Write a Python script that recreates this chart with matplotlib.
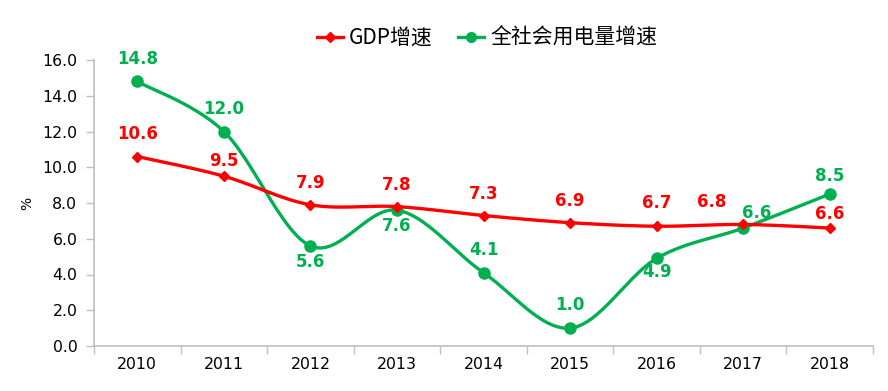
import numpy as np
import matplotlib
matplotlib.use("Agg")
import matplotlib.pyplot as plt
from matplotlib.lines import Line2D

years = ["2010", "2011", "2012", "2013", "2014", "2015", "2016", "2017", "2018"]
gdp = [10.6, 9.5, 7.9, 7.8, 7.3, 6.9, 6.7, 6.8, 6.6]
power = [14.8, 12.0, 5.6, 7.6, 4.1, 1.0, 4.9, 6.6, 8.5]
series_names = ["GDP增速", "全社会用电量增速"]
yticks = [0.0, 2.0, 4.0, 6.0, 8.0, 10.0, 12.0, 14.0, 16.0]

# label placement (style only): vertical pixel offsets and horizontal shifts
gdp_dy_px = [23, 15, 22, 22, 22, 22, 23, 22, 14]
power_dy_px = [22, 23, -16, -16, 23, 23, -14, 15, 18]
gdp_dx = [0, 0, 0, 0, 0, 0, 0, -0.36, 0]
power_dx = [0, 0, 0, 0, 0, 0, 0, 0.16, 0]

RED = "#FF0000"
GREEN = "#00B050"
AXC = "#BFBFBF"
PX_PER_UNIT = 286 / 16.0

fig = plt.figure(figsize=(8.88, 3.91), dpi=100)
ax = fig.add_axes([94/888, 1-346/391, (873-94)/888, (346-60)/391])

x = np.arange(len(years))

def smooth(xs, ys, n=30):
    xs = np.asarray(xs, float); ys = np.asarray(ys, float)
    P = np.column_stack([xs, ys])
    P = np.vstack([P[0], P, P[-1]])
    out = []
    for i in range(1, len(P) - 2):
        p0, p1, p2, p3 = P[i-1], P[i], P[i+1], P[i+2]
        c1 = p1 + (p2 - p0) / 6.0
        c2 = p2 - (p3 - p1) / 6.0
        t = np.linspace(0, 1, n)[:, None]
        seg = ((1-t)**3)*p1 + 3*((1-t)**2)*t*c1 + 3*(1-t)*t**2*c2 + t**3*p2
        out.append(seg if i == 1 else seg[1:])
    out = np.vstack(out)
    return out[:, 0], out[:, 1]

gx, gy = smooth(x, gdp)
ax.plot(gx, gy, color=RED, lw=2.4, zorder=3)
ax.plot(x, gdp, ls="none", marker="D", ms=5, color=RED, zorder=5)
sx, sy = smooth(x, power)
ax.plot(sx, sy, color=GREEN, lw=2.4, zorder=2)
ax.plot(x, power, ls="none", marker="o", ms=8, color=GREEN, zorder=4)

lblfont = dict(fontfamily="DejaVu Sans", fontweight="bold", fontsize=12)
for i, v in enumerate(gdp):
    ax.text(x[i] + gdp_dx[i], v + gdp_dy_px[i] / PX_PER_UNIT, f"{v:.1f}", color=RED,
            ha="center", va="center", **lblfont)
for i, v in enumerate(power):
    ax.text(x[i] + power_dx[i], v + power_dy_px[i] / PX_PER_UNIT, f"{v:.1f}", color=GREEN,
            ha="center", va="center", **lblfont)

ax.set_xlim(-0.5, len(years) - 0.5)
ax.set_ylim(0, 16)
ax.set_yticks(yticks)
ax.set_yticklabels([f"{t:.1f}" for t in yticks], fontsize=11.3, fontfamily="DejaVu Sans")
ax.set_xticks(np.arange(-0.5, len(years)), minor=False)
ax.set_xticklabels([""] * (len(years) + 1))
ax.set_xticks(x, minor=True)
ax.set_xticklabels(years, minor=True, fontsize=11.3, fontfamily="DejaVu Sans")
ax.tick_params(axis="x", which="major", length=6, color=AXC, width=1)
ax.tick_params(axis="x", which="minor", length=0, pad=8)
ax.tick_params(axis="y", length=6, color=AXC, width=1, pad=6)

for s in ["top", "right"]:
    ax.spines[s].set_visible(False)
for s in ["left", "bottom"]:
    ax.spines[s].set_color(AXC)
    ax.spines[s].set_linewidth(1.2)

ax.set_ylabel("%", fontsize=10, fontfamily="DejaVu Sans", labelpad=6)

handles = [Line2D([], [], color=RED, lw=2.4, marker="D", ms=5),
           Line2D([], [], color=GREEN, lw=2.4, marker="o", ms=7)]
fig.legend(handles, series_names, loc="center", bbox_to_anchor=(487/888, 1-38/391),
           ncol=2, frameon=False, handlelength=1.25, columnspacing=1.2, handletextpad=0.3,
           prop={"family": ["Noto Sans CJK SC", "DejaVu Sans"], "size": 15})

fig.savefig("out.png", dpi=100)
